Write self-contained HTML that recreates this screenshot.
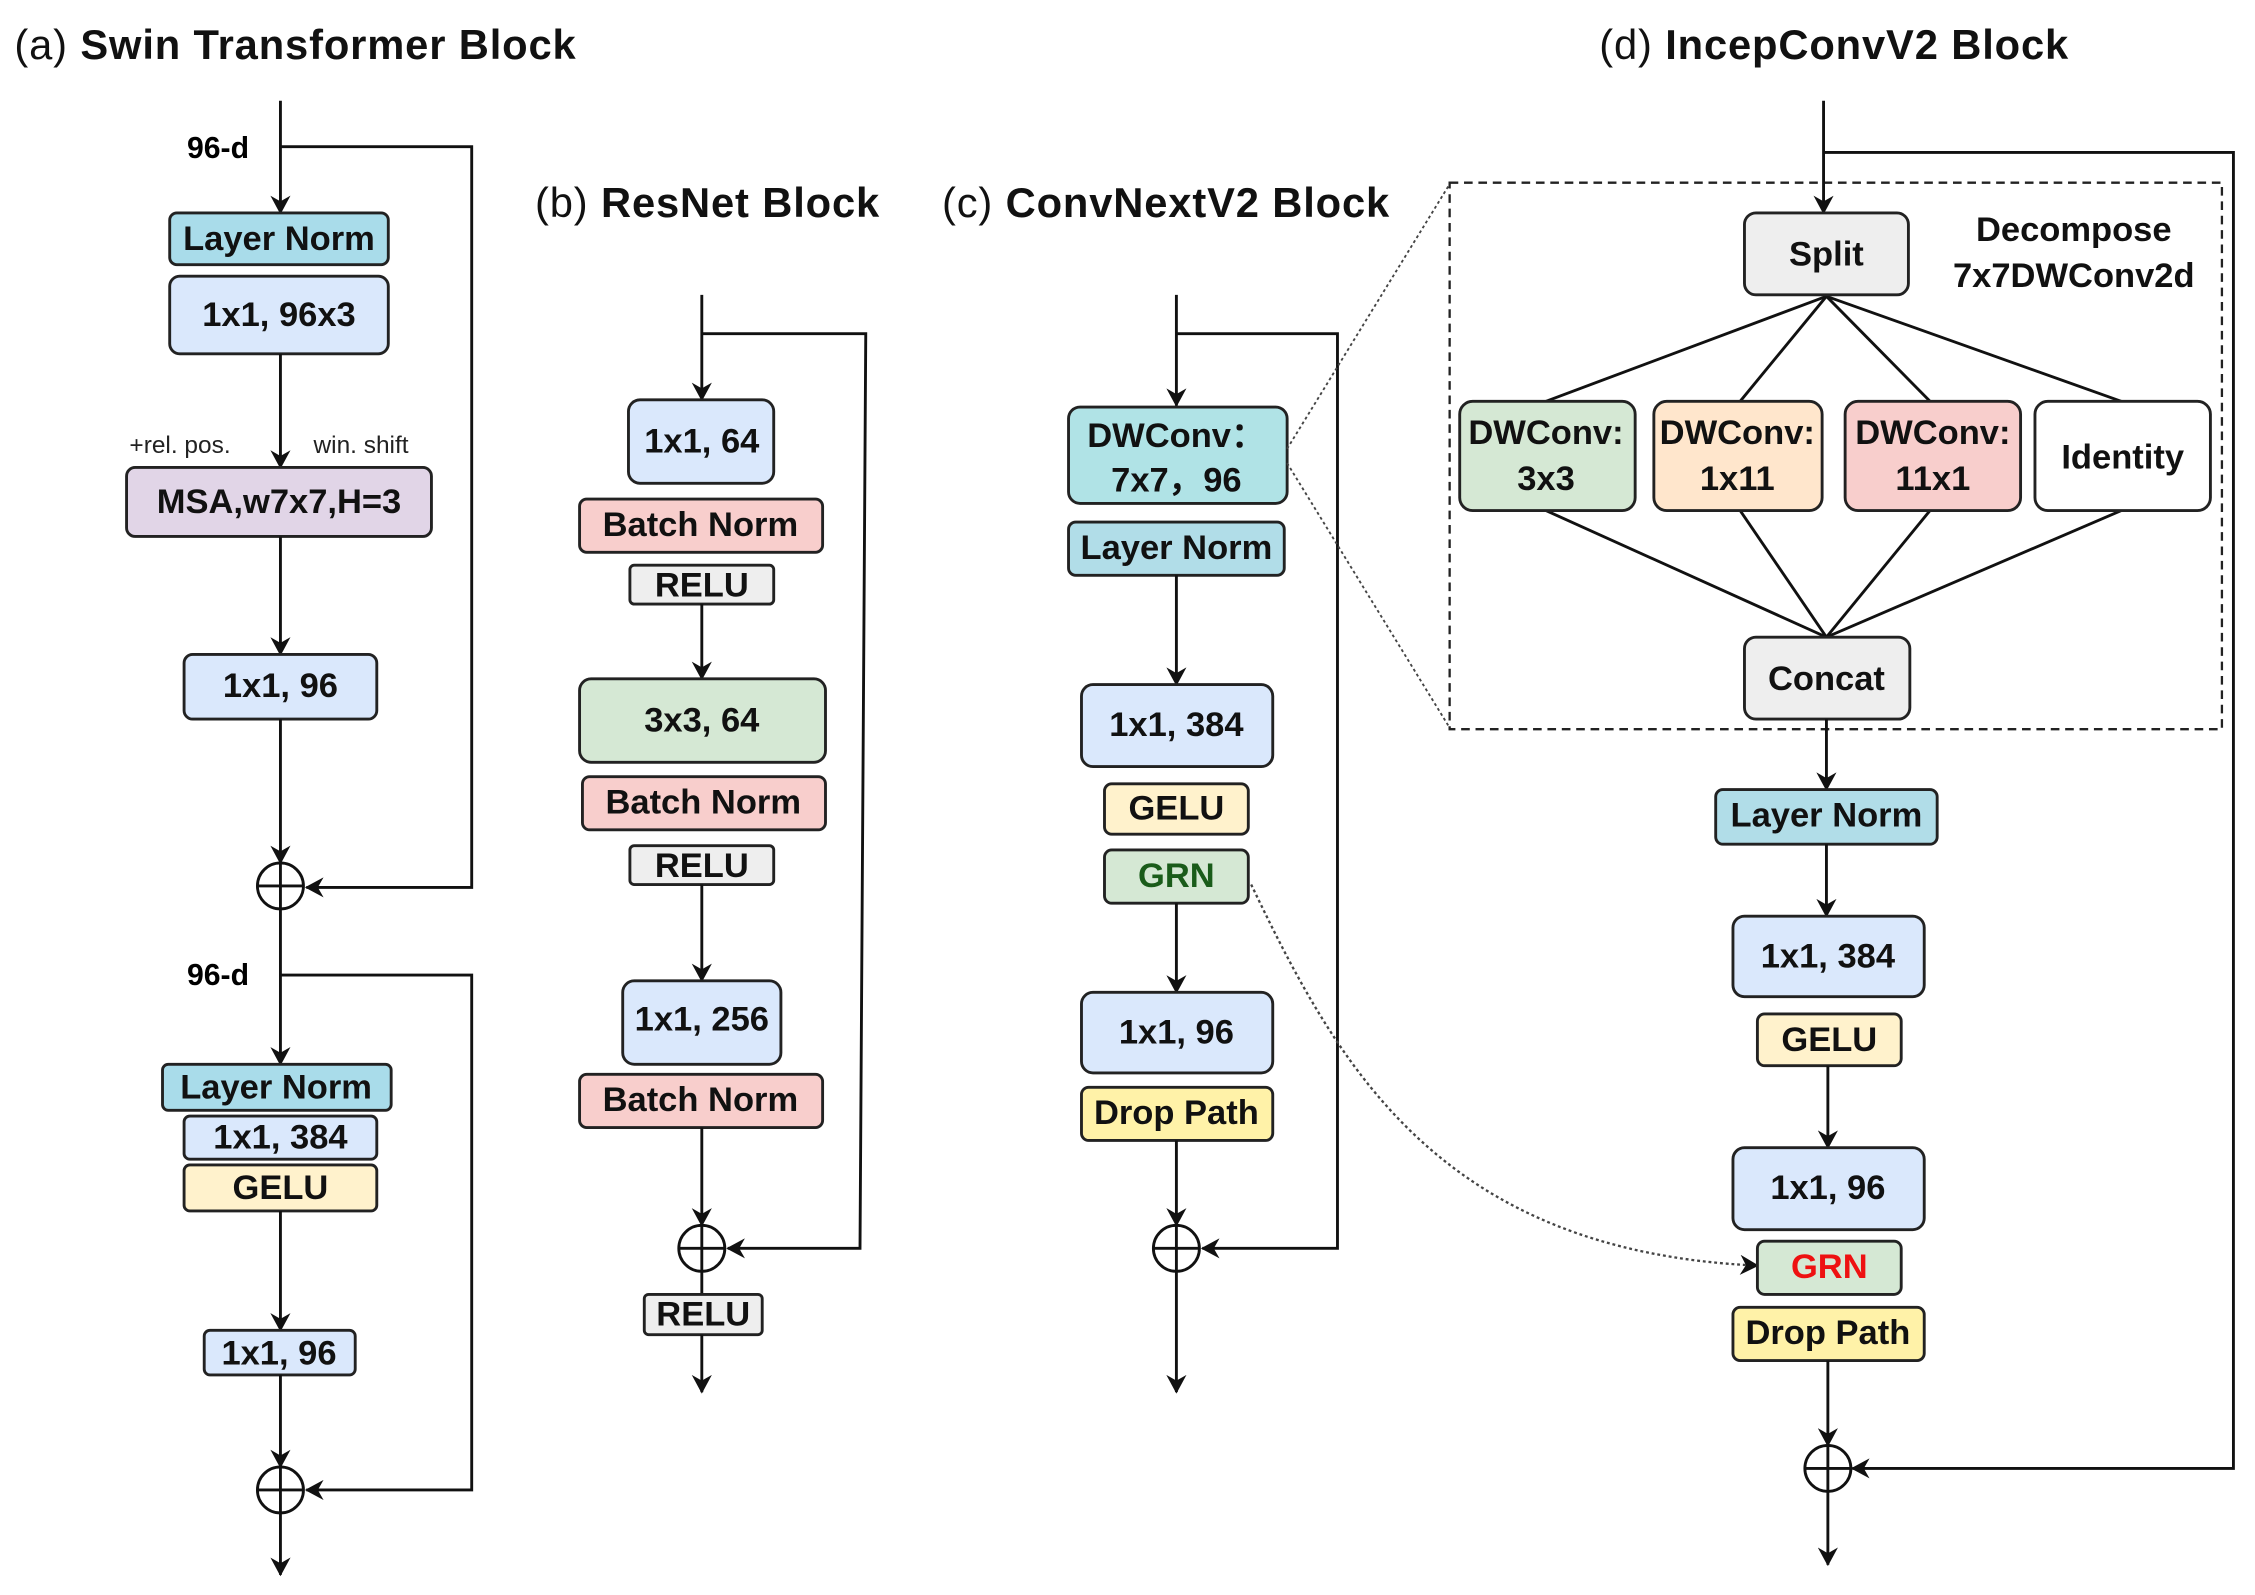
<!DOCTYPE html>
<html><head><meta charset="utf-8"><style>
html,body{margin:0;padding:0;background:#fff;}
svg{display:block;}
text{font-family:"Liberation Sans",Arial,sans-serif;}
.t{font-size:24px;font-weight:bold;fill:#111;text-anchor:middle;dominant-baseline:central;}
.h{font-size:29px;font-weight:bold;fill:#111;letter-spacing:0.6px;}
.p{font-weight:normal;}
.b{stroke:#222;stroke-width:2;}
.l{stroke:#111;stroke-width:2;fill:none;}
</style></head><body>
<svg width="2255" height="1595" viewBox="0 0 1568 1109" xmlns="http://www.w3.org/2000/svg">
<defs>
<marker id="a" markerWidth="14" markerHeight="14" refX="12" refY="7" orient="auto" markerUnits="userSpaceOnUse">
<path d="M0,0 L13,7 L0,14 L4,7 Z" fill="#111"/></marker>
</defs>
<!-- titles -->
<text x="10" y="41" class="h"><tspan class="p">(a)</tspan>  Swin Transformer Block</text>
<text x="372" y="151" class="h"><tspan class="p">(b)</tspan>  ResNet Block</text>
<text x="655" y="151" class="h"><tspan class="p">(c)</tspan>  ConvNextV2 Block</text>
<text x="1112" y="41" class="h"><tspan class="p">(d)</tspan>  IncepConvV2 Block</text>

<!-- (a) -->
<g>
<line x1="195" y1="70" x2="195" y2="148" class="l" marker-end="url(#a)"/>
<polyline points="195,102 328,102 328,617 213,617" class="l" marker-end="url(#a)"/>
<text x="130" y="110" style="font-size:21px;font-weight:bold">96-d</text>
<rect x="118" y="148" width="152" height="36" rx="5" fill="#a9dcea" class="b"/><text x="194" y="166" class="t">Layer Norm</text>
<rect x="118" y="192" width="152" height="54" rx="7" fill="#dae8fc" class="b"/><text x="194" y="219" class="t">1x1, 96x3</text>
<line x1="195" y1="246" x2="195" y2="325" class="l" marker-end="url(#a)"/>
<text x="90" y="315" style="font-size:17px;fill:#222">+rel. pos.</text>
<text x="218" y="315" style="font-size:17px;fill:#222">win. shift</text>
<rect x="88" y="325" width="212" height="48" rx="6" fill="#e1d5e7" class="b"/><text x="194" y="349" class="t">MSA,w7x7,H=3</text>
<line x1="195" y1="373" x2="195" y2="455" class="l" marker-end="url(#a)"/>
<rect x="128" y="455" width="134" height="45" rx="6" fill="#dae8fc" class="b"/><text x="195" y="477" class="t">1x1, 96</text>
<line x1="195" y1="500" x2="195" y2="600" class="l" marker-end="url(#a)"/>
<circle cx="195" cy="616" r="16" fill="#fff" class="l"/><line x1="179" y1="616" x2="211" y2="616" class="l"/><line x1="195" y1="600" x2="195" y2="632" class="l"/>
<line x1="195" y1="632" x2="195" y2="740" class="l" marker-end="url(#a)"/>
<polyline points="195,678 328,678 328,1036 213,1036" class="l" marker-end="url(#a)"/>
<text x="130" y="685" style="font-size:21px;font-weight:bold">96-d</text>
<rect x="113" y="740" width="159" height="32" rx="4" fill="#a9dcea" class="b"/><text x="192" y="756" class="t">Layer Norm</text>
<rect x="128" y="776" width="134" height="30" rx="4" fill="#dae8fc" class="b"/><text x="195" y="791" class="t">1x1, 384</text>
<rect x="128" y="810" width="134" height="32" rx="4" fill="#fff2cc" class="b"/><text x="195" y="826" class="t">GELU</text>
<line x1="195" y1="842" x2="195" y2="925" class="l" marker-end="url(#a)"/>
<rect x="142" y="925" width="105" height="31" rx="4" fill="#dae8fc" class="b"/><text x="194" y="941" class="t">1x1, 96</text>
<line x1="195" y1="956" x2="195" y2="1020" class="l" marker-end="url(#a)"/>
<circle cx="195" cy="1036" r="16" fill="#fff" class="l"/><line x1="179" y1="1036" x2="211" y2="1036" class="l"/><line x1="195" y1="1020" x2="195" y2="1052" class="l"/>
<line x1="195" y1="1052" x2="195" y2="1095" class="l" marker-end="url(#a)"/>
</g>

<!-- (b) -->
<g>
<line x1="488" y1="205" x2="488" y2="278" class="l" marker-end="url(#a)"/>
<polyline points="488,232 602,232 598,868 506,868" class="l" marker-end="url(#a)"/>
<rect x="437" y="278" width="101" height="58" rx="8" fill="#dae8fc" class="b"/><text x="488" y="307" class="t">1x1, 64</text>
<rect x="403" y="347" width="169" height="37" rx="5" fill="#f8cecc" class="b"/><text x="487" y="365" class="t">Batch Norm</text>
<rect x="438" y="393" width="100" height="27" rx="3" fill="#eeeeee" class="b"/><text x="488" y="407" class="t">RELU</text>
<line x1="488" y1="420" x2="488" y2="472" class="l" marker-end="url(#a)"/>
<rect x="403" y="472" width="171" height="58" rx="8" fill="#d5e8d4" class="b"/><text x="488" y="501" class="t">3x3, 64</text>
<rect x="405" y="540" width="169" height="37" rx="5" fill="#f8cecc" class="b"/><text x="489" y="558" class="t">Batch Norm</text>
<rect x="438" y="588" width="100" height="27" rx="3" fill="#eeeeee" class="b"/><text x="488" y="602" class="t">RELU</text>
<line x1="488" y1="615" x2="488" y2="682" class="l" marker-end="url(#a)"/>
<rect x="433" y="682" width="110" height="58" rx="8" fill="#dae8fc" class="b"/><text x="488" y="709" class="t">1x1, 256</text>
<rect x="403" y="747" width="169" height="37" rx="5" fill="#f8cecc" class="b"/><text x="487" y="765" class="t">Batch Norm</text>
<line x1="488" y1="784" x2="488" y2="852" class="l" marker-end="url(#a)"/>
<circle cx="488" cy="868" r="16" fill="#fff" class="l"/><line x1="472" y1="868" x2="504" y2="868" class="l"/><line x1="488" y1="852" x2="488" y2="884" class="l"/>
<line x1="488" y1="884" x2="488" y2="900" class="l"/>
<rect x="448" y="900" width="82" height="28" rx="3" fill="#eeeeee" class="b"/><text x="489" y="914" class="t">RELU</text>
<line x1="488" y1="928" x2="488" y2="968" class="l" marker-end="url(#a)"/>
</g>

<!-- (c) -->
<g>
<line x1="818" y1="205" x2="818" y2="282" class="l" marker-end="url(#a)"/>
<polyline points="818,232 930,232 930,868 836,868" class="l" marker-end="url(#a)"/>
<rect x="743" y="283" width="152" height="67" rx="8" fill="#b0e3e6" class="b"/>
<text x="818" y="303" class="t">DWConv：</text><text x="818" y="334" class="t">7x7，96</text>
<rect x="743" y="363" width="150" height="37" rx="5" fill="#b1dde8" class="b"/><text x="818" y="381" class="t">Layer Norm</text>
<line x1="818" y1="400" x2="818" y2="476" class="l" marker-end="url(#a)"/>
<rect x="752" y="476" width="133" height="57" rx="8" fill="#dae8fc" class="b"/><text x="818" y="504" class="t">1x1, 384</text>
<rect x="768" y="545" width="100" height="35" rx="5" fill="#fff2cc" class="b"/><text x="818" y="562" class="t">GELU</text>
<rect x="768" y="591" width="100" height="37" rx="5" fill="#d5e8d4" class="b"/><text x="818" y="609" class="t" style="fill:#1a5c1a">GRN</text>
<line x1="818" y1="628" x2="818" y2="690" class="l" marker-end="url(#a)"/>
<rect x="752" y="690" width="133" height="56" rx="8" fill="#dae8fc" class="b"/><text x="818" y="718" class="t">1x1, 96</text>
<rect x="752" y="756" width="133" height="37" rx="5" fill="#fff2a8" class="b"/><text x="818" y="774" class="t">Drop Path</text>
<line x1="818" y1="793" x2="818" y2="852" class="l" marker-end="url(#a)"/>
<circle cx="818" cy="868" r="16" fill="#fff" class="l"/><line x1="802" y1="868" x2="834" y2="868" class="l"/><line x1="818" y1="852" x2="818" y2="884" class="l"/>
<line x1="818" y1="884" x2="818" y2="968" class="l" marker-end="url(#a)"/>
</g>

<!-- zoom dotted lines -->
<line x1="895" y1="312" x2="1008" y2="128" stroke="#444" stroke-width="1.3" stroke-dasharray="2,2"/>
<line x1="895" y1="322" x2="1008" y2="506" stroke="#444" stroke-width="1.3" stroke-dasharray="2,2"/>
<path d="M870,615 C930,740 1000,870 1222,880" stroke="#444" stroke-width="1.6" stroke-dasharray="2,2" fill="none" marker-end="url(#a)"/>

<!-- (d) -->
<g>
<rect x="1008" y="127" width="537" height="380" fill="none" stroke="#222" stroke-width="1.6" stroke-dasharray="6,4"/>
<line x1="1268" y1="70" x2="1268" y2="148" class="l" marker-end="url(#a)"/>
<polyline points="1268,106 1553,106 1553,1021 1288,1021" class="l" marker-end="url(#a)"/>
<g class="l">
<line x1="1270" y1="206" x2="1075" y2="279"/><line x1="1270" y1="206" x2="1210" y2="279"/>
<line x1="1270" y1="206" x2="1342" y2="279"/><line x1="1270" y1="206" x2="1475" y2="279"/>
<line x1="1075" y1="355" x2="1270" y2="443"/><line x1="1210" y1="355" x2="1270" y2="443"/>
<line x1="1342" y1="355" x2="1270" y2="443"/><line x1="1475" y1="355" x2="1270" y2="443"/>
</g>
<rect x="1213" y="148" width="114" height="57" rx="8" fill="#eeeeee" class="b"/><text x="1270" y="177" class="t">Split</text>
<text x="1442" y="160" class="t">Decompose</text><text x="1442" y="192" class="t">7x7DWConv2d</text>
<rect x="1015" y="279" width="122" height="76" rx="9" fill="#d5e8d4" class="b"/><text x="1075" y="301" class="t">DWConv:</text><text x="1075" y="333" class="t">3x3</text>
<rect x="1150" y="279" width="117" height="76" rx="9" fill="#ffe6cc" class="b"/><text x="1208" y="301" class="t">DWConv:</text><text x="1208" y="333" class="t">1x11</text>
<rect x="1283" y="279" width="122" height="76" rx="9" fill="#f8cecc" class="b"/><text x="1344" y="301" class="t">DWConv:</text><text x="1344" y="333" class="t">11x1</text>
<rect x="1415" y="279" width="122" height="76" rx="9" fill="#ffffff" class="b"/><text x="1476" y="318" class="t">Identity</text>
<rect x="1213" y="443" width="115" height="57" rx="8" fill="#eeeeee" class="b"/><text x="1270" y="472" class="t">Concat</text>
<line x1="1270" y1="500" x2="1270" y2="549" class="l" marker-end="url(#a)"/>
<rect x="1193" y="549" width="154" height="38" rx="5" fill="#b1dde8" class="b"/><text x="1270" y="567" class="t">Layer Norm</text>
<line x1="1270" y1="587" x2="1270" y2="637" class="l" marker-end="url(#a)"/>
<rect x="1205" y="637" width="133" height="56" rx="8" fill="#dae8fc" class="b"/><text x="1271" y="665" class="t">1x1, 384</text>
<rect x="1222" y="705" width="100" height="36" rx="5" fill="#fff2cc" class="b"/><text x="1272" y="723" class="t">GELU</text>
<line x1="1271" y1="741" x2="1271" y2="798" class="l" marker-end="url(#a)"/>
<rect x="1205" y="798" width="133" height="57" rx="8" fill="#dae8fc" class="b"/><text x="1271" y="826" class="t">1x1, 96</text>
<rect x="1222" y="863" width="100" height="37" rx="5" fill="#d5e8d4" class="b"/><text x="1272" y="881" class="t" style="fill:#ee1111">GRN</text>
<rect x="1205" y="909" width="133" height="37" rx="5" fill="#fff2a8" class="b"/><text x="1271" y="927" class="t">Drop Path</text>
<line x1="1271" y1="946" x2="1271" y2="1005" class="l" marker-end="url(#a)"/>
<circle cx="1271" cy="1021" r="16" fill="#fff" class="l"/><line x1="1255" y1="1021" x2="1287" y2="1021" class="l"/><line x1="1271" y1="1005" x2="1271" y2="1037" class="l"/>
<line x1="1271" y1="1037" x2="1271" y2="1088" class="l" marker-end="url(#a)"/>
</g>
</svg>
</body></html>
